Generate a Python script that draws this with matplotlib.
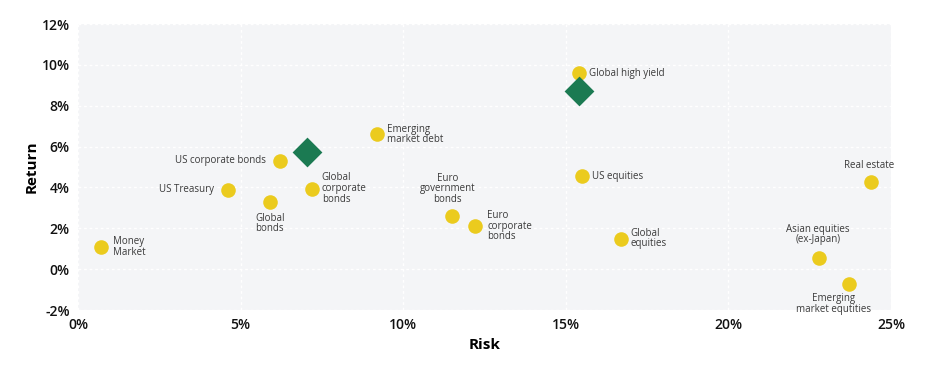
import matplotlib
matplotlib.use("Agg")
import matplotlib.pyplot as plt
from matplotlib.ticker import FuncFormatter

plt.rcParams["font.family"] = ["Open Sans", "DejaVu Sans"]

# asset classes: risk (%), return (%)
asset_names = [
    "Money\nMarket", "US Treasury", "US corporate bonds", "Global\nbonds",
    "Global\ncorporate\nbonds", "Emerging\nmarket debt", "Euro\ngovernment\nbonds",
    "Euro\ncorporate\nbonds", "Global high yield", "US equities", "Global\nequities",
    "Real estate", "Asian equities\n(ex-Japan)", "Emerging\nmarket equtities",
]
asset_risk = [0.7, 4.6, 6.2, 5.9, 7.2, 9.2, 11.5, 12.2, 15.4, 15.5, 16.7, 24.4, 22.8, 23.7]
asset_return = [1.1, 3.9, 5.3, 3.3, 3.95, 6.6, 2.6, 2.1, 9.6, 4.55, 1.5, 4.25, 0.55, -0.7]

# portfolios (diamonds)
portfolio_risk = [7.05, 15.4]
portfolio_return = [5.75, 8.7]

# label placement: (dx, dy in points, ha, va)
label_pos = [
    (9, 0, "left", "center"),
    (-10, 0, "right", "center"),
    (-10, 0, "right", "center"),
    (0, -8, "center", "top"),
    (7, 0, "left", "center"),
    (7, 0, "left", "center"),
    (-3, 8, "center", "bottom"),
    (9, 0, "left", "center"),
    (7, 0, "left", "center"),
    (7, 0, "left", "center"),
    (7, 0, "left", "center"),
    (-2, 8, "center", "bottom"),
    (-1, 9, "center", "bottom"),
    (-11, -7, "center", "top"),
]

fig = plt.figure(figsize=(9.32, 3.70), dpi=100)
ax = fig.add_axes([0.0837, 0.162, 0.8723, 0.773])
ax.set_facecolor("#f4f5f7")

ax.scatter(asset_risk, asset_return, s=110, color="#ebcb1e", zorder=3, linewidths=0)
ax.scatter(portfolio_risk, portfolio_return, s=230, marker="D", color="#1b7a52",
           zorder=3, linewidths=0)

for name, x, y, (dx, dy, ha, va) in zip(asset_names, asset_risk, asset_return, label_pos):
    ax.annotate(name, (x, y), xytext=(dx, dy), textcoords="offset points",
                ha=ha, va=va, fontsize=7, color="#3a3a3a", linespacing=0.95,
                multialignment=ha if ha != "center" else "center")

ax.set_xlim(0, 25)
ax.set_ylim(-2, 12)
ax.set_xticks(range(0, 26, 5))
ax.set_yticks(range(-2, 13, 2))
ax.xaxis.set_major_formatter(FuncFormatter(lambda v, _: f"{v:.0f}%"))
ax.yaxis.set_major_formatter(FuncFormatter(lambda v, _: f"{v:.0f}%"))
ax.tick_params(length=0, labelsize=10, colors="#111111", pad=6)
for lbl in ax.get_xticklabels() + ax.get_yticklabels():
    lbl.set_fontweight("semibold")

ax.grid(True, color="white", linestyle=(0, (2, 2)), linewidth=1.0)
ax.set_axisbelow(True)
for spine in ax.spines.values():
    spine.set_visible(False)

ax.set_xlabel("Risk", fontsize=11, fontweight="bold", labelpad=4)
ax.set_ylabel("Return", fontsize=11, fontweight="bold", labelpad=2)

fig.savefig("out.png", dpi=100, facecolor="white")
